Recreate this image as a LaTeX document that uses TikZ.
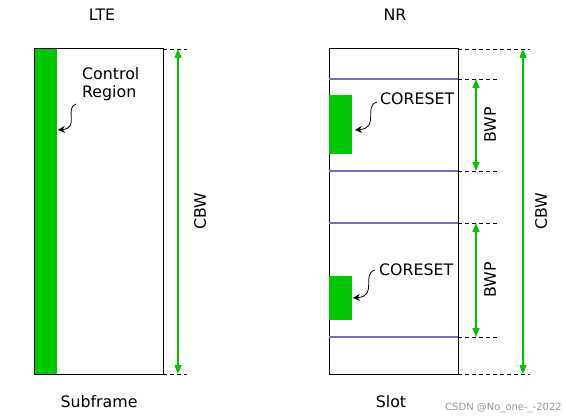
\documentclass[tikz,border=0pt]{standalone}
\usepackage{fontspec}
\setmainfont{DejaVu Sans}
\usetikzlibrary{arrows.meta}
\definecolor{regionGreen}{RGB}{0,200,0}
\definecolor{bwpBlue}{RGB}{112,112,200}

\begin{document}
\begin{tikzpicture}[x=1pt,y=-1pt,%%
  arrowStyle/.style={{Triangle[width=7pt,length=9pt]}-{Triangle[width=7pt,length=9pt]},regionGreen,line width=1.3pt},%%
  labelStyle/.style={font=\fontsize{15.8}{18}\selectfont,inner sep=0pt},%%
  lineStyle/.style={-,line width=1pt},%%
  dashStyle/.style={-,dash pattern=on 4pt off 3pt,line width=0.9pt},%%
  bwpStyle/.style={-,bwpBlue,line width=1.1pt},%%
  curlStyle/.style={-{Stealth[width=7pt,length=7pt]},line width=0.8pt}%%
]
%%
\pgfmathsetmacro{\ytop}{49}
\pgfmathsetmacro{\ybot}{374}
\pgfmathsetmacro{\bar}{23}
%%
\useasboundingbox (0,0) rectangle (566,420);
%%
%% LTE subframe.
\coordinate (lteLowerLeft) at (34,\ybot);
\coordinate (lteUpperRight) at (163,\ytop);
\fill[regionGreen] (34,\ytop) rectangle (34+\bar,\ybot);
\draw[lineStyle] (lteLowerLeft) rectangle (lteUpperRight);
\node[labelStyle] (lteTitle) at (102,15) {LTE};
\node[labelStyle] (lteSub) at (99,402) {Subframe};
%% Label the control region.
\node[labelStyle,anchor=base west,align=left] (ctrlText) at (82,98) {Control\\Region};
\coordinate (ctrlFrom) at (76,104);
\coordinate (ctrlTip) at (58,130);
\draw[curlStyle] (ctrlFrom) .. controls (64,108) and (80,128) .. (ctrlTip);
%% Carrier bandwidth.
\coordinate (lteTopEnd) at (187,\ytop);
\coordinate (lteBotEnd) at (187,\ybot);
\draw[dashStyle] (lteUpperRight) -- (lteTopEnd);
\draw[dashStyle] (163,\ybot) -- (lteBotEnd);
\coordinate (lteCbwTop) at (178,\ytop);
\coordinate (lteCbwBot) at (178,\ybot);
\draw[arrowStyle] (lteCbwTop) -- (lteCbwBot);
\node[labelStyle,rotate=90] (lteCbw) at (200,211) {CBW};
%%
%% NR slot.
\coordinate (nrLowerLeft) at (329,\ybot);
\coordinate (nrUpperRight) at (458,\ytop);
\draw[lineStyle] (nrLowerLeft) rectangle (nrUpperRight);
\node[labelStyle] (nrTitle) at (395,15) {NR};
\node[labelStyle] (nrSlot) at (391,402) {Slot};
%% The two bandwidth parts.
\foreach \ya/\yb/\name in {79/171/one,223/337/two}{
  \coordinate (bwpTop\name) at (329,\ya);
  \coordinate (bwpBot\name) at (329,\yb);
  \coordinate (bwpTopEnd\name) at (498,\ya);
  \coordinate (bwpBotEnd\name) at (498,\yb);
  \draw[bwpStyle] (bwpTop\name) -- (458,\ya);
  \draw[bwpStyle] (bwpBot\name) -- (458,\yb);
  \draw[dashStyle] (458,\ya) -- (bwpTopEnd\name);
  \draw[dashStyle] (458,\yb) -- (bwpBotEnd\name);
  \draw[arrowStyle] (476,\ya) -- (476,\yb);
  \node[labelStyle,rotate=90] (bwp\name) at (490,{(\ya+\yb)/2}) {BWP};
}
%% The two coresets.
\fill[regionGreen] (329,95) rectangle (329+\bar,154);
\fill[regionGreen] (329,276) rectangle (329+\bar,320);
\node[labelStyle,anchor=base west] (coresetOne) at (380,105) {CORESET};
\node[labelStyle,anchor=base west] (coresetTwo) at (379,275) {CORESET};
\coordinate (coresetOneFrom) at (377,102);
\coordinate (coresetOneTip) at (355,130);
\coordinate (coresetTwoFrom) at (375,270);
\coordinate (coresetTwoTip) at (353,298);
\draw[curlStyle] (coresetOneFrom) .. controls (363,106) and (380,128) .. (coresetOneTip);
\draw[curlStyle] (coresetTwoFrom) .. controls (361,274) and (378,296) .. (coresetTwoTip);
%% Carrier bandwidth.
\coordinate (nrTopEnd) at (530,\ytop);
\coordinate (nrBotEnd) at (530,\ybot);
\draw[dashStyle] (nrUpperRight) -- (nrTopEnd);
\draw[dashStyle] (458,\ybot) -- (nrBotEnd);
\draw[arrowStyle] (523,\ytop) -- (523,\ybot);
\node[labelStyle,rotate=90] (nrCbw) at (541,211) {CBW};
%%
\node[inner sep=0pt,anchor=east,text=black!40,font=\fontsize{10}{12}\selectfont] (mark) at (562,408) {CSDN @No\_one-\_-2022};
\end{tikzpicture}
\end{document}
